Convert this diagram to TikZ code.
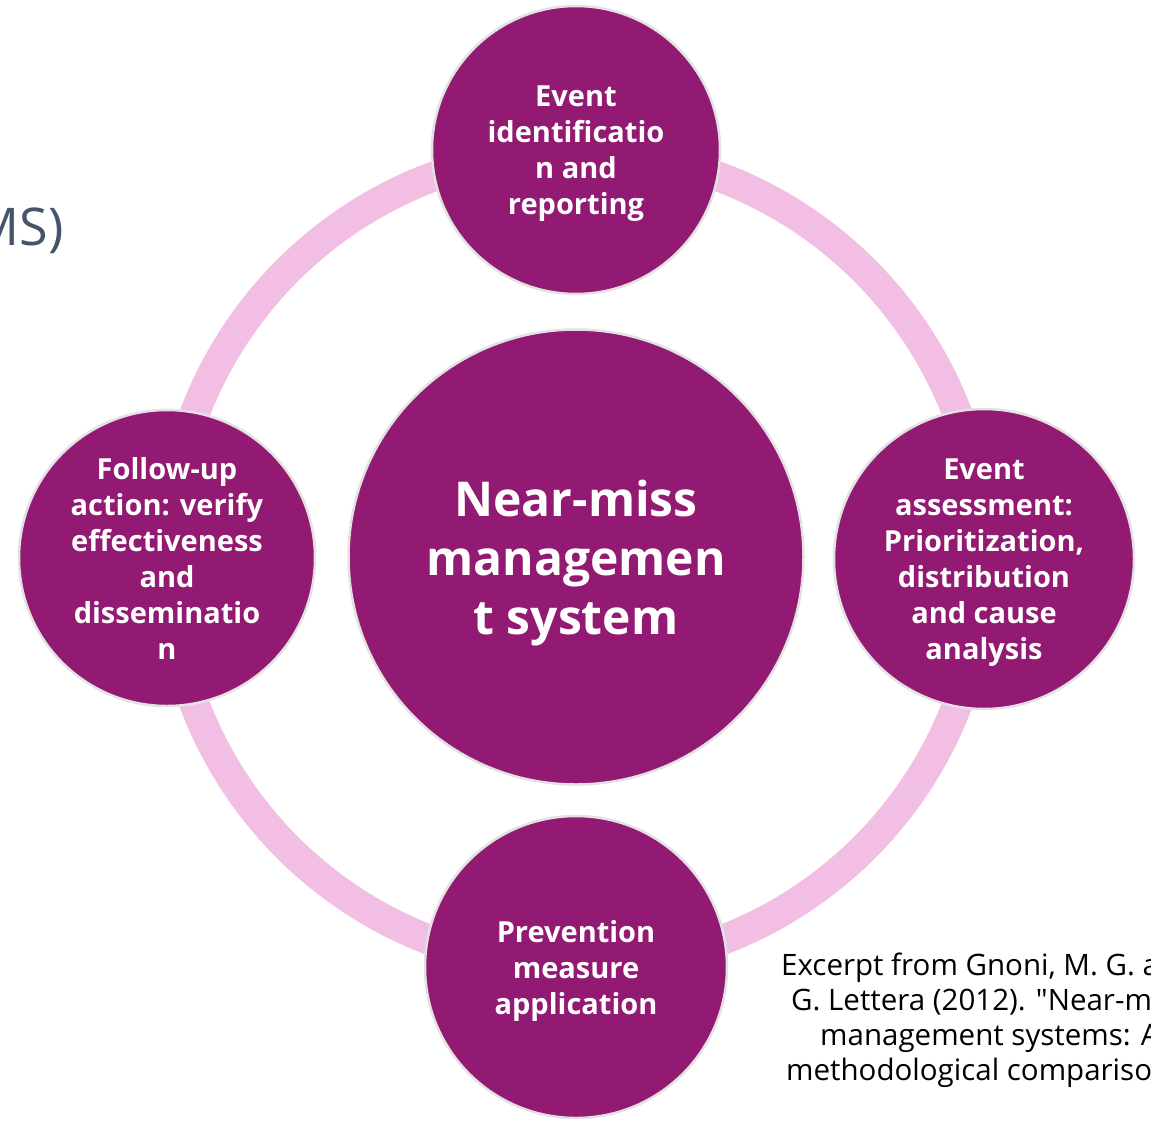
\documentclass[tikz,border=0pt]{standalone}
\usepackage{fontspec}
\setmainfont{Open Sans}
\newfontfamily\citefont{Open Sans}[Ligatures=TeXOff]
\definecolor{nmpurple}{HTML}{921A73}
\definecolor{nmpink}{HTML}{F3BEE3}
\definecolor{nmrim}{HTML}{E2E2E2}
\definecolor{nmslate}{HTML}{44546A}
\begin{document}
\begin{tikzpicture}[x=1pt,y=-1pt,
  bubble/.style={circle, fill=nmpurple, draw=nmrim, line width=2.5pt, inner sep=0pt,
    text=white, align=center, font=\bfseries\fontsize{29}{36}\selectfont},
  hubstyle/.style={bubble, font=\bfseries\fontsize{48}{59}\selectfont},
  citestyle/.style={anchor=base west, inner sep=0pt, text=black, font=\citefont\fontsize{29.5}{35}\selectfont},
  ringstyle/.style={draw=nmpink, line width=30pt}]
\useasboundingbox (0,0) rectangle (1151,1122);
\clip (0,0) rectangle (1151,1122);
\fill[white] (0,0) rectangle (1151,1122);
\coordinate (ringc) at (576,559);
\draw[ringstyle] (ringc) circle[radius=408pt];
\node[hubstyle, minimum size=455pt] (hub) at (576,557) {Near-miss\\managemen\\\smash{t system}};
\node[bubble, minimum size=288pt] (top) at (576,150) {Event\\identificatio\\n and\\\smash{reporting}};
\node[bubble, minimum size=300pt] (right) at (984,559) {Event\\assessment:\\Prioritization,\\distribution\\and cause\\\smash{analysis}};
\node[bubble, minimum size=302pt] (bottom) at (576,967) {Prevention\\measure\\\smash{application}};
\node[bubble, minimum size=296pt] (left) at (167,558) {Follow-up\\action: verify\\effectiveness\\and\\disseminatio\\n};
\node[anchor=base east, inner sep=0pt, text=nmslate, font=\fontsize{52}{60}\selectfont] (frag) at (64,245) {MS)};
\node[citestyle] (cite1) at (781,975) {Excerpt from Gnoni, M. G. a};
\node[citestyle] (cite2) at (791,1010) {G. Lettera (2012). "Near-mi};
\node[citestyle] (cite3) at (820,1045) {management systems: A};
\node[citestyle] (cite4) at (786,1080) {methodological compariso};
\end{tikzpicture}
\end{document}
